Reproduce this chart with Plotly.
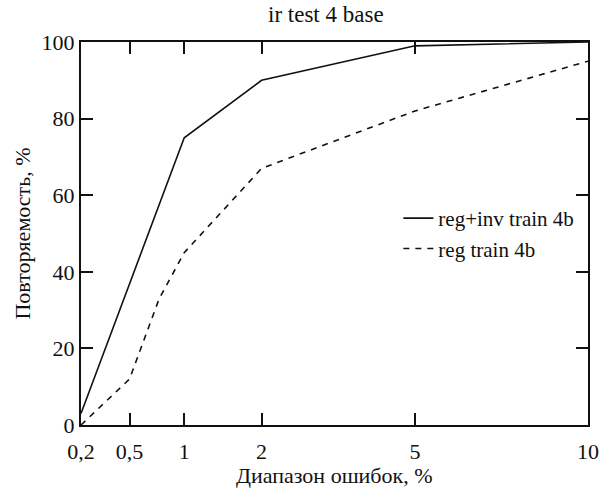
import numpy as np
import plotly.graph_objects as go

# data
tick_values = [0.2, 0.5, 1, 2, 5, 10]
tick_labels = ["0,2", "0,5", "1", "2", "5", "10"]
reg_inv_x = [0.2, 0.5, 1, 2, 5, 10]
reg_inv_y = [3, 37, 75, 90, 99, 100]
reg_x = [0.2, 0.5, 0.75, 1, 2, 5, 10]
reg_y = [0, 12, 33, 45, 67, 82, 95]

FONT = "Liberation Serif, Times New Roman, serif"

fig = go.Figure()
fig.add_trace(go.Scatter(x=np.sqrt(reg_inv_x), y=reg_inv_y, mode="lines",
                         name="reg+inv train 4b",
                         line=dict(color="#111", width=1.6)))
fig.add_trace(go.Scatter(x=np.sqrt(reg_x), y=reg_y, mode="lines",
                         name="reg train 4b",
                         line=dict(color="#111", width=1.6, dash="6px,6px")))

L, R, T, B = 81, 14, 42, 65
pw, ph = 611 - L - R, 490 - T - B
def px(x):
    return (x - L) / pw
def py(y):
    return (490 - B - y) / ph

fig.update_layout(
    width=611, height=490,
    margin=dict(l=L, r=R, t=T, b=B),
    paper_bgcolor="white", plot_bgcolor="white",
    font=dict(family=FONT, size=22, color="#111"),
    showlegend=True,
    legend=dict(x=px(404), y=0.5, xanchor="left", yanchor="middle",
                bgcolor="rgba(0,0,0,0)", font=dict(size=21), tracegroupgap=0,
                borderwidth=0),
    annotations=[
        dict(text="ir test 4 base", x=px(330), y=py(15), xref="paper", yref="paper",
             showarrow=False, font=dict(size=23), xanchor="center", yanchor="middle"),
        dict(text="Диапазон ошибок, %", x=0.5, y=py(475), xref="paper", yref="paper",
             showarrow=False, font=dict(size=22), xanchor="center", yanchor="middle"),
        dict(text="Повторяемость, %", x=px(21), y=0.5, xref="paper", yref="paper",
             showarrow=False, font=dict(size=22), textangle=-90,
             xanchor="center", yanchor="middle"),
    ],
)

tv = np.sqrt(tick_values)
fig.update_xaxes(
    range=[tv[0], tv[-1]], tickvals=tv, ticktext=tick_labels,
    showgrid=False, zeroline=False, showline=True, linecolor="#111", linewidth=2,
    mirror="ticks", ticks="inside", ticklen=12, tickwidth=1.5, tickcolor="#111",
    ticklabelstandoff=6,
)
fig.update_yaxes(
    range=[0, 100], tickvals=[0, 20, 40, 60, 80, 100],
    showgrid=False, zeroline=False, showline=True, linecolor="#111", linewidth=2,
    mirror="ticks", ticks="inside", ticklen=12, tickwidth=1.5, tickcolor="#111",
)

fig.write_html("out.html")
